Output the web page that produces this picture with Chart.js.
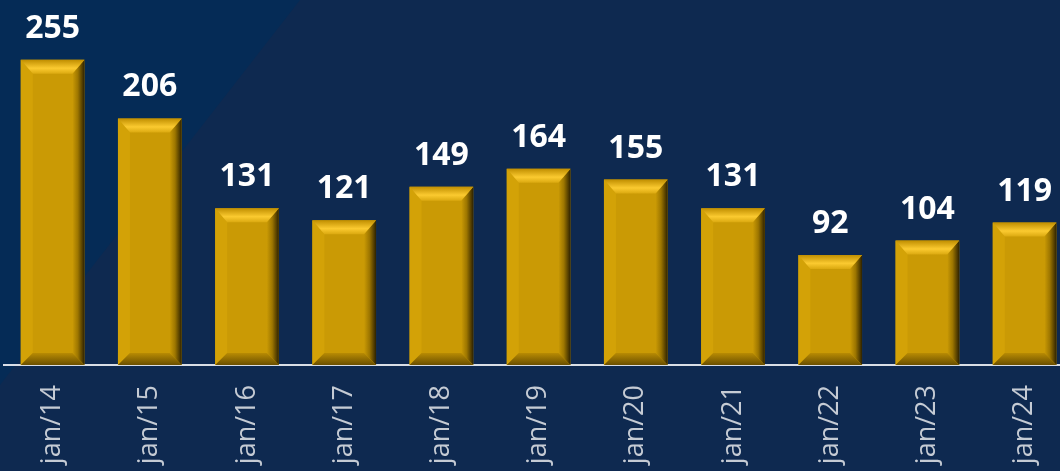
<!DOCTYPE html>
<html>
<head>
<meta charset="utf-8">
<script src="https://cdn.jsdelivr.net/npm/chart.js@4.4.1/dist/chart.umd.min.js"></script>
<style>
  html, body { margin: 0; padding: 0; overflow: hidden; background: #0f2a52; }
  #wrap { width: 1060px; height: 471px; overflow: hidden; }
</style>
</head>
<body>
<div id="wrap"><canvas id="myChart" width="1077" height="471"></canvas></div>
<script>
var categories = ["jan/14", "jan/15", "jan/16", "jan/17", "jan/18", "jan/19", "jan/20", "jan/21", "jan/22", "jan/23", "jan/24"];
var values = [255, 206, 131, 121, 149, 164, 155, 131, 92, 104, 119];
var yMax = 305;

/*
 * background: navy with a brighter triangle in the top left corner
 */
var backdrop = {
    id: 'backdrop',
    beforeDraw: function(chart) {
        var ctx = chart.ctx;
        ctx.save();
        ctx.fillStyle = "#0e2950";
        ctx.fillRect(0, 0, chart.width, chart.height);
        ctx.beginPath();
        ctx.moveTo(0, 0);
        ctx.lineTo(300, 0);
        ctx.lineTo(0, 385);
        ctx.closePath();
        ctx.fillStyle = "#052b56";
        ctx.fill();
        ctx.restore();
    }
};

/*
 * bevel on each bar + value label above it
 */
var bevels = {
    id: 'bevels',
    afterDatasetsDraw: function(chart) {
        var ctx = chart.ctx;
        var meta = chart.getDatasetMeta(0);
        meta.data.forEach(function(bar, i) {
            var L = bar.x - bar.width / 2;
            var R = bar.x + bar.width / 2;
            var T = bar.y;
            var B = bar.base;
            var s = 12, t = 14, b = 12;
            ctx.save();

            // left
            ctx.fillStyle = "#d3a207";
            ctx.beginPath();
            ctx.moveTo(L, T); ctx.lineTo(L + s, T + t); ctx.lineTo(L + s, B - b); ctx.lineTo(L, B);
            ctx.closePath(); ctx.fill();

            // right
            var g = ctx.createLinearGradient(R - s, 0, R, 0);
            g.addColorStop(0, "#ca9a05");
            g.addColorStop(0.45, "#9d7600");
            g.addColorStop(1, "#2e2200");
            ctx.fillStyle = g;
            ctx.beginPath();
            ctx.moveTo(R, T); ctx.lineTo(R, B); ctx.lineTo(R - s, B - b); ctx.lineTo(R - s, T + t);
            ctx.closePath(); ctx.fill();

            // top
            g = ctx.createLinearGradient(0, T, 0, T + t);
            g.addColorStop(0, "#c08e00");
            g.addColorStop(0.6, "#fbca30");
            g.addColorStop(1, "#dba910");
            ctx.fillStyle = g;
            ctx.beginPath();
            ctx.moveTo(L, T); ctx.lineTo(R, T); ctx.lineTo(R - s, T + t); ctx.lineTo(L + s, T + t);
            ctx.closePath(); ctx.fill();

            // bottom
            g = ctx.createLinearGradient(0, B - b, 0, B);
            g.addColorStop(0, "#b88b03");
            g.addColorStop(1, "#6a4f00");
            ctx.fillStyle = g;
            ctx.beginPath();
            ctx.moveTo(L, B); ctx.lineTo(R, B); ctx.lineTo(R - s, B - b); ctx.lineTo(L + s, B - b);
            ctx.closePath(); ctx.fill();

            // value label
            ctx.fillStyle = "#ffffff";
            ctx.font = "bold 32px 'Open Sans'";
            ctx.textAlign = "center";
            ctx.textBaseline = "alphabetic";
            ctx.fillText(String(values[i]), bar.x, T - 22);
            ctx.restore();
        });
    }
};

var chart = new Chart(document.getElementById("myChart").getContext('2d'), {
    type: 'bar',
    data: {
        labels: categories,
        datasets: [{
            data: values,
            backgroundColor: "#ca9a05",
            borderWidth: 0,
            barPercentage: 0.655,
            categoryPercentage: 1.0
        }]
    },
    options: {
        responsive: false,
        animation: false,
        devicePixelRatio: 1,
        layout: { padding: { left: 4, right: 0, top: 0, bottom: 0 } },
        plugins: {
            legend: { display: false },
            tooltip: { enabled: false }
        },
        scales: {
            x: {
                grid: { display: false, drawTicks: false },
                border: { display: true, color: "#d9dee6", width: 2 },
                ticks: {
                    color: "#c5cbd4",
                    font: { family: "'Open Sans'", size: 27 },
                    minRotation: 90,
                    maxRotation: 90,
                    autoSkip: false,
                    padding: 20
                },
                afterFit: function(scale) { scale.height = 106; }
            },
            y: {
                display: false,
                min: 0,
                max: yMax
            }
        }
    },
    plugins: [backdrop, bevels]
});
</script>
</body>
</html>
